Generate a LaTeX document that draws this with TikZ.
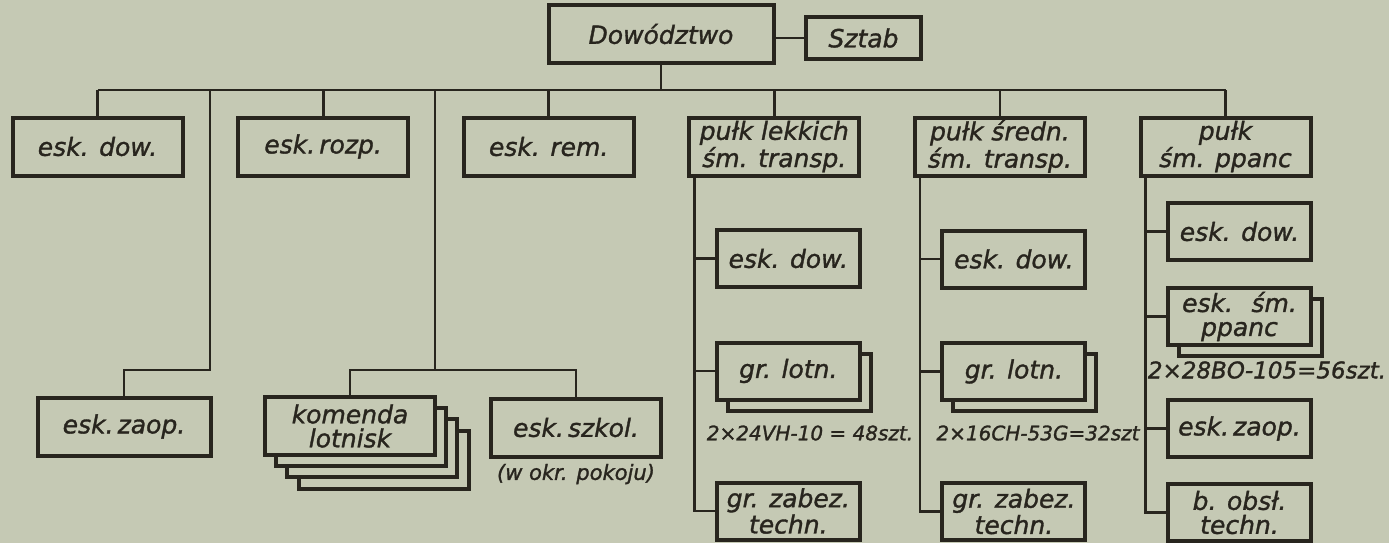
\documentclass[tikz,border=0pt]{standalone}
\usepackage{fontspec}
\usepackage{xcolor}
\usepackage{tikz}
\setmainfont{DejaVu Sans}[ItalicFeatures={FakeBold=1.3}]
\definecolor{paper}{RGB}{197, 201, 180}
\definecolor{ink}{RGB}{40, 37, 30}
\usetikzlibrary{shapes,arrows,positioning,shadows}

\begin{document}
\begin{tikzpicture}[x=0.5pt, y=-0.5pt, node distance=112.8pt,
    unit/.style={rectangle, draw=ink, line width=2pt, fill=paper, text=ink, minimum width=85pt, minimum height=29pt, inner sep=1pt, align=center, font=\fontsize{12.5}{12}\selectfont\itshape},
    sub/.style={unit, minimum width=71.5pt, minimum height=28.5pt},
    link/.style={draw=ink, line width=1.4pt},
    note/.style={text=ink, inner sep=0pt, font=\fontsize{10}{12}\selectfont\itshape},
    copies/.style={copy shadow={draw=ink, fill=paper, shadow xshift=#1, shadow yshift=-#1}}]
    \fill[paper] (0,0) rectangle (1389,543);
    \useasboundingbox (0,0) rectangle (1389,543);

    \node[unit, minimum width=112.5pt] (dow) at (661,34) {Dowództwo};
    \node[unit, minimum width=57.5pt, minimum height=21pt, right=14.25pt of dow, yshift=-2pt] (sztab) {Sztab};

    \node[unit] (edow) at (97.5,146.5) {esk. dow.};
    \node[unit, right of=edow] (erozp) {esk.\,rozp.};
    \node[unit, right of=erozp] (erem) {esk. rem.};
    \node[unit, right of=erem] (plekk) {pułk lekkich\\śm. transp.};
    \node[unit, right of=plekk] (psred) {pułk średn.\\śm. transp.};
    \node[unit, right of=psred] (pppanc) {pułk\\śm. ppanc};

    \node[unit, minimum width=86.5pt] (ezaop) at (124,426.5) {esk.\,zaop.};
    \node[unit, copies=17pt, copies=11pt, copies=5.5pt] (komenda) at (350,426) {komenda\\lotnisk};
    \node[unit] (szkol) at (576,427.5) {esk.\,szkol.};
    \node[note, below=2.5pt of szkol, font=\fontsize{10.5}{12}\selectfont\itshape] (pokoj) {(w okr. pokoju)};

    \node[sub, xshift=7pt] (ldow) at (plekk |- 0,258.5) {esk. dow.};
    \node[sub, xshift=7pt, copies=5.5pt] (llotn) at (plekk |- 0,371) {gr. lotn.};
    \node[note] (lnum) at (810,433) {2×24VH-10 = 48szt.};
    \node[sub, xshift=7pt] (lzab) at (plekk |- 0,511) {gr. zabez.\\techn.};

    \node[sub, xshift=7pt] (sdow) at (psred |- 0,259) {esk. dow.};
    \node[sub, xshift=7pt, copies=5.5pt] (slotn) at (psred |- 0,371.5) {gr. lotn.};
    \node[note] (snum) at (1038,433) {2×16CH-53G=32szt};
    \node[sub, xshift=7pt] (szab) at (psred |- 0,511.5) {gr. zabez.\\techn.};

    \node[sub, xshift=7pt] (pdow) at (pppanc |- 0,231.5) {esk. dow.};
    \node[sub, xshift=7pt, copies=5.5pt] (pesm) at (pppanc |- 0,316.5) {esk. \ śm.\\ppanc};
    \node[note, font=\fontsize{11.5}{12}\selectfont\itshape] (pnum) at (1267,370) {2×28BO-105=56szt.};
    \node[sub, xshift=7pt] (pzaop) at (pppanc |- 0,428.5) {esk.\,zaop.};
    \node[sub, xshift=7pt] (pobsl) at (pppanc |- 0,512.5) {b. obsł.\\techn.};

    % bus and drops
    \coordinate (bus) at (0,90);
    \coordinate (fork) at (0,370);
    \coordinate (trunka) at (210,0);
    \coordinate (trunkb) at (435,0);
    \draw[link] (dow.east |- sztab.west) -- (sztab.west);
    \draw[link] (dow.south) -- (dow.south |- bus);
    \draw[link] (edow.north |- bus) -- (pppanc.north |- bus);
    \foreach \n in {edow,erozp,erem,plekk,psred,pppanc}
        \draw[link] (\n.north |- bus) -- (\n.north);
    \draw[link] (trunka |- bus) -- (trunka |- fork) -| (ezaop.north);
    \draw[link] (trunkb |- bus) -- (trunkb |- fork);
    \draw[link] (komenda.north) |- (szkol.north |- fork) -- (szkol.north);

    % columns
    \coordinate (lspine) at ([xshift=3.5pt]plekk.south west);
    \coordinate (sspine) at ([xshift=3.5pt]psred.south west);
    \coordinate (pspine) at ([xshift=3.5pt]pppanc.south west);
    \draw[link] (lspine) |- (lzab.west);
    \draw[link] (sspine) |- (szab.west);
    \draw[link] (pspine) |- (pobsl.west);
    \foreach \n in {ldow,llotn}
        \draw[link] (lspine |- \n.west) -- (\n.west);
    \foreach \n in {sdow,slotn}
        \draw[link] (sspine |- \n.west) -- (\n.west);
    \foreach \n in {pdow,pesm,pzaop}
        \draw[link] (pspine |- \n.west) -- (\n.west);
\end{tikzpicture}
\end{document}
